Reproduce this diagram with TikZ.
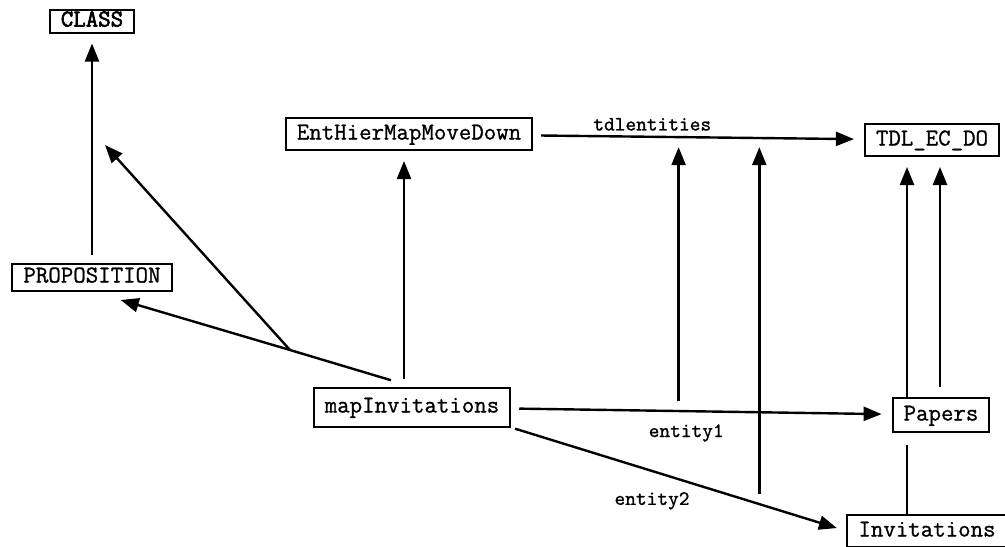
\documentclass[tikz,border=0pt]{standalone}
\usepackage{fontspec}
\newfontfamily\diagfont{Latin Modern Mono}[FakeBold=1]
\newfontfamily\diagbold{Latin Modern Mono}[FakeBold=2.6]
\usetikzlibrary{arrows.meta}

\begin{document}
\begin{tikzpicture}[x=0.5pt, y=-0.5pt, >={Triangle[length=9pt, width=7pt]},
   box/.style={draw, line width=1pt, font=\diagfont\fontsize{12.1}{14}\selectfont,
     inner xsep=5.5pt, inner ysep=1pt, text height=7.5pt, text depth=2pt},
   rel/.style={->, line width=1.2pt, shorten >=5pt, shorten <=4pt},
   plain/.style={line width=1.2pt},
   lab/.style={font=\diagfont\fontsize{10.2}{12}\selectfont, inner sep=1pt}
   ]
   \useasboundingbox (0,0) rectangle (1005,546);
   \clip (0,0) rectangle (1005,546);

   \path (92,21) node[box, font=\diagbold\fontsize{12.1}{14}\selectfont] (CLASS) {CLASS}
   (92,277) node[box, minimum height=13.5pt] (PROP) {PROPOSITION};
   \path (409,134) node[box, minimum height=16pt] (EH) {EntHierMapMoveDown}
   (932,140) node[box, minimum height=16pt] (TDL) {TDL\_EC\_DO};
   \path (412,407) node[box, minimum height=19.5pt] (MI) {mapInvitations}
   (941,415) node[box, minimum height=17pt] (PAP) {Papers}
   (927,531) node[box, minimum height=16pt] (INV) {Invitations};

   \coordinate (J) at (290,350);
   \coordinate (hier) at (105,145);

   \draw[rel] (PROP) -- (CLASS);
   \draw[rel] ([xshift=-4pt]MI.north) -- ([xshift=-2.5pt]EH.south);

   \draw[rel] (EH) -- node[lab, above=1.5pt, pos=0.36] {tdlentities} coordinate[pos=0.45] (t1) (TDL);
   \draw[rel] (MI) -- node[lab, below=5pt, pos=0.46] {entity1} coordinate[pos=0.44] (e1) (PAP);
   \draw[rel, shorten <=2pt] (MI.south east) -- node[lab, below=9pt, pos=0.42] {entity2} coordinate[pos=0.74] (e2) (INV.west);

   \draw[rel, shorten <=5pt] (e1) -- (e1 |- t1);
   \draw[rel, shorten <=5pt] (e2) -- (e2 |- t1);

   % junction above mapInvitations
   \draw[plain, shorten <=11pt] (MI.north) -- (J);
   \draw[rel, shorten <=0pt, shorten >=15pt] (J) -- (PROP.south);
   \draw[rel, shorten <=0pt, shorten >=0pt] (J) -- (hier);

   \draw[plain, shorten >=6pt] ([xshift=-10pt]INV.north) -- ([xshift=-17pt]PAP.south);
   \draw[rel, shorten <=0pt] ([xshift=-17pt]PAP.north) -- ([xshift=-12.5pt]TDL.south);
   \draw[rel, shorten <=5pt] ([xshift=-0.5pt]PAP.north) -- ([xshift=4pt]TDL.south);

\end{tikzpicture}
\end{document}
